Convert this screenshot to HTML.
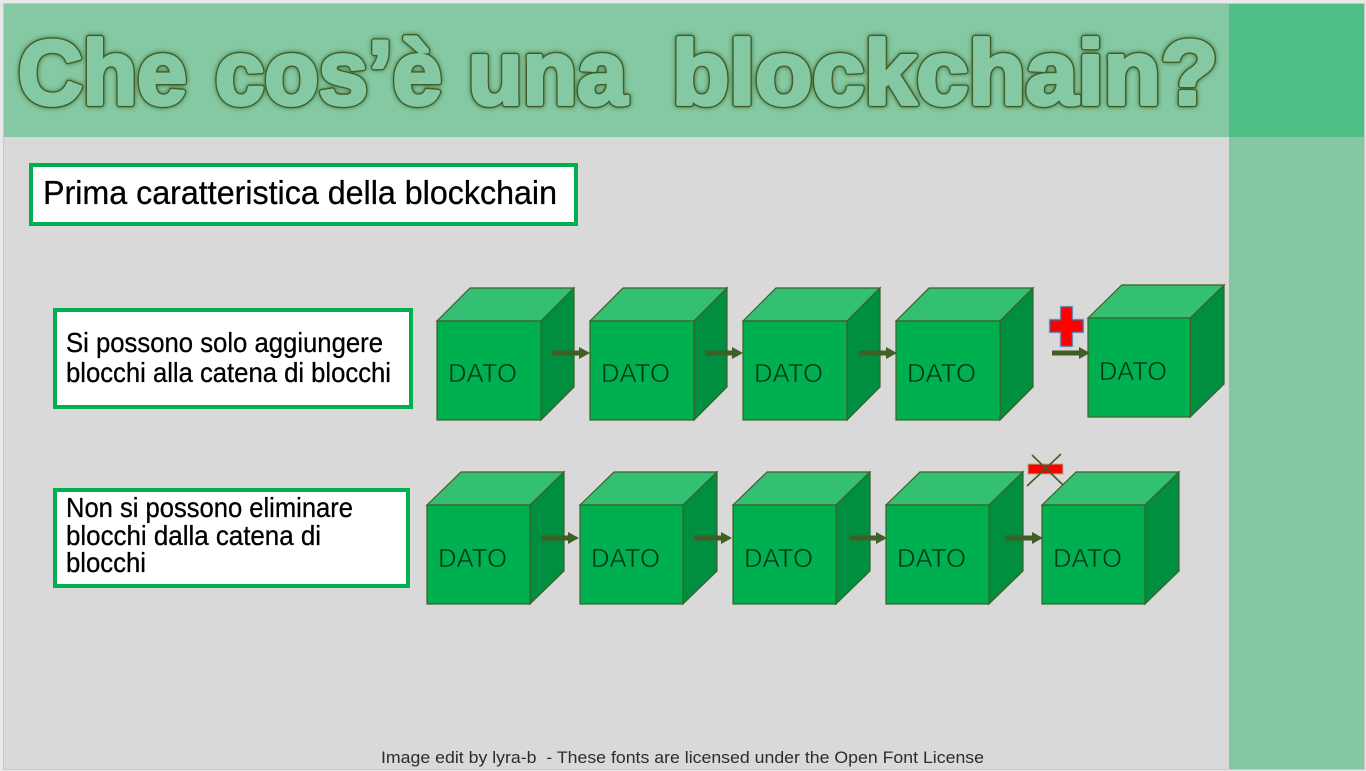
<!DOCTYPE html>
<html lang="it">
<head>
<meta charset="utf-8">
<title>Che cos'è una blockchain?</title>
<style>
html,body{margin:0;padding:0;width:1366px;height:771px;overflow:hidden;background:#e8e8e8}
svg{display:block}
text{font-family:"Liberation Sans",sans-serif}
.t{font-family:"Liberation Sans",sans-serif;font-size:91px;font-weight:bold;stroke-linejoin:round}
.o{fill:#3f5f26;stroke:#3f5f26;stroke-width:6.5px}
.i{fill:#84c9a3;stroke:#84c9a3;stroke-width:3.8px}
.l{font-size:28px;fill:#000;stroke:#000;stroke-width:.3px}
.d{font-size:26px;fill:#00391a;stroke:#00b050;stroke-width:.55px}
.f{font-size:17px;fill:#2c2c2c}
</style>
</head>
<body>
<svg xmlns="http://www.w3.org/2000/svg" width="1366" height="771" viewBox="0 0 1366 771">
<defs>
<filter id="glow" x="-5%" y="-20%" width="110%" height="140%"><feGaussianBlur stdDeviation="2.4"/></filter>
<g id="cube" stroke="#3f5f26" stroke-width="1.2" stroke-linejoin="miter">
<path d="M0 33 L33 0 H137 L104 33 Z" fill="#33c072"/>
<path d="M104 33 L137 0 V99 L104 132 Z" fill="#008e40"/>
<rect x="0" y="33" width="104" height="99" fill="#00b050"/>
</g>
<g id="cube2" stroke="#3f5f26" stroke-width="1.2" stroke-linejoin="miter">
<path d="M0 33 L34 0 H137 L103 33 Z" fill="#33c072"/>
<path d="M103 33 L137 0 V99 L103 132 Z" fill="#008e40"/>
<rect x="0" y="33" width="103" height="99" fill="#00b050"/>
</g>
<g id="arr">
<rect x="0" y="-2.5" width="27" height="5" fill="#3f5f26"/>
<path d="M27 -6 L38 0 L27 6 Z" fill="#3f5f26"/>
</g>
</defs>

<rect x="3.5" y="3.5" width="1361" height="766" fill="#d9d9d9" stroke="#c8c8c8" stroke-width="1"/>
<rect x="4" y="4" width="1225" height="133" fill="#84c9a3"/>
<rect x="1229" y="4" width="135" height="133" fill="#50bf85"/>
<rect x="1229" y="137" width="135" height="632" fill="#84c7a3"/>

<!-- Title: glow, dark outline, then inner fill -->
<g filter="url(#glow)" opacity=".8">
<text class="t o" x="18" y="104" textLength="169" lengthAdjust="spacingAndGlyphs">Che</text>
<text class="t o" x="215" y="104" textLength="227" lengthAdjust="spacingAndGlyphs">cos’è</text>
<text class="t o" x="468" y="104" textLength="159" lengthAdjust="spacingAndGlyphs">una</text>
<text class="t o" x="672" y="104" textLength="546" lengthAdjust="spacingAndGlyphs">blockchain?</text>
</g>
<text class="t o" x="18" y="104" textLength="169" lengthAdjust="spacingAndGlyphs">Che</text>
<text class="t o" x="215" y="104" textLength="227" lengthAdjust="spacingAndGlyphs">cos’è</text>
<text class="t o" x="468" y="104" textLength="159" lengthAdjust="spacingAndGlyphs">una</text>
<text class="t o" x="672" y="104" textLength="546" lengthAdjust="spacingAndGlyphs">blockchain?</text>
<text class="t i" x="18" y="104" textLength="169" lengthAdjust="spacingAndGlyphs">Che</text>
<text class="t i" x="215" y="104" textLength="227" lengthAdjust="spacingAndGlyphs">cos’è</text>
<text class="t i" x="468" y="104" textLength="159" lengthAdjust="spacingAndGlyphs">una</text>
<text class="t i" x="672" y="104" textLength="546" lengthAdjust="spacingAndGlyphs">blockchain?</text>

<!-- Label boxes -->
<rect x="31" y="165" width="545" height="59" fill="#fff" stroke="#00b050" stroke-width="4"/>
<text class="l" x="43" y="204" style="font-size:33px" textLength="514" lengthAdjust="spacingAndGlyphs">Prima caratteristica della blockchain</text>

<rect x="55" y="310" width="356" height="97" fill="#fff" stroke="#00b050" stroke-width="4"/>
<text class="l" x="66" y="352" textLength="317" lengthAdjust="spacingAndGlyphs">Si possono solo aggiungere</text>
<text class="l" x="66" y="382" textLength="325" lengthAdjust="spacingAndGlyphs">blocchi alla catena di blocchi</text>

<rect x="55" y="490" width="353" height="96" fill="#fff" stroke="#00b050" stroke-width="4"/>
<text class="l" x="66" y="517" textLength="287" lengthAdjust="spacingAndGlyphs">Non si possono eliminare</text>
<text class="l" x="66" y="545" textLength="255" lengthAdjust="spacingAndGlyphs">blocchi dalla catena di</text>
<text class="l" x="66" y="572" textLength="80" lengthAdjust="spacingAndGlyphs">blocchi</text>

<!-- Row 1 cubes -->
<use href="#cube" transform="translate(437,288)"/>
<use href="#cube" transform="translate(590,288)"/>
<use href="#cube" transform="translate(743,288)"/>
<use href="#cube" transform="translate(896,288)"/>
<use href="#cube2" transform="translate(1088,285) scale(.993,1)"/>
<text class="d" x="448" y="382" textLength="69" lengthAdjust="spacingAndGlyphs">DATO</text>
<text class="d" x="601" y="382" textLength="69" lengthAdjust="spacingAndGlyphs">DATO</text>
<text class="d" x="754" y="382" textLength="69" lengthAdjust="spacingAndGlyphs">DATO</text>
<text class="d" x="907" y="382" textLength="69" lengthAdjust="spacingAndGlyphs">DATO</text>
<text class="d" x="1099" y="380" textLength="68" lengthAdjust="spacingAndGlyphs">DATO</text>
<use href="#arr" transform="translate(552,353)"/>
<use href="#arr" transform="translate(705,353)"/>
<use href="#arr" transform="translate(859,353)"/>
<use href="#arr" transform="translate(1052,353)"/>

<!-- Row 2 cubes -->
<use href="#cube2" transform="translate(427,472)"/>
<use href="#cube2" transform="translate(580,472)"/>
<use href="#cube2" transform="translate(733,472)"/>
<use href="#cube2" transform="translate(886,472)"/>
<use href="#cube2" transform="translate(1042,472)"/>
<text class="d" x="438" y="567" textLength="69" lengthAdjust="spacingAndGlyphs">DATO</text>
<text class="d" x="591" y="567" textLength="69" lengthAdjust="spacingAndGlyphs">DATO</text>
<text class="d" x="744" y="567" textLength="69" lengthAdjust="spacingAndGlyphs">DATO</text>
<text class="d" x="897" y="567" textLength="69" lengthAdjust="spacingAndGlyphs">DATO</text>
<text class="d" x="1053" y="567" textLength="69" lengthAdjust="spacingAndGlyphs">DATO</text>
<use href="#arr" transform="translate(541,538)"/>
<use href="#arr" transform="translate(694,538)"/>
<use href="#arr" transform="translate(849,538)"/>
<use href="#arr" transform="translate(1005,538)"/>

<!-- Plus sign -->
<path d="M1061 307 H1072 V320 H1083 V332 H1072 V346 H1061 V332 H1050 V320 H1061 Z" fill="#ff0000" stroke="#b9c4d8" stroke-width="3"/>
<path d="M1061 307 H1072 V320 H1083 V332 H1072 V346 H1061 V332 H1050 V320 H1061 Z" fill="#ff0000" stroke="#4a5f9a" stroke-width="1.2"/>

<!-- Minus sign crossed out -->
<rect x="1028" y="464" width="35" height="10" fill="#ff0000" stroke="#a9b39c" stroke-width="1"/>
<path d="M1032 455 L1063 485 M1061 454 L1027 486" stroke="#3f5f26" stroke-width="1.6" fill="none"/>

<!-- Footer -->
<text class="f" x="381" y="763" textLength="603" lengthAdjust="spacingAndGlyphs" xml:space="preserve">Image edit by lyra-b  - These fonts are licensed under the Open Font License</text>
</svg>
</body>
</html>
